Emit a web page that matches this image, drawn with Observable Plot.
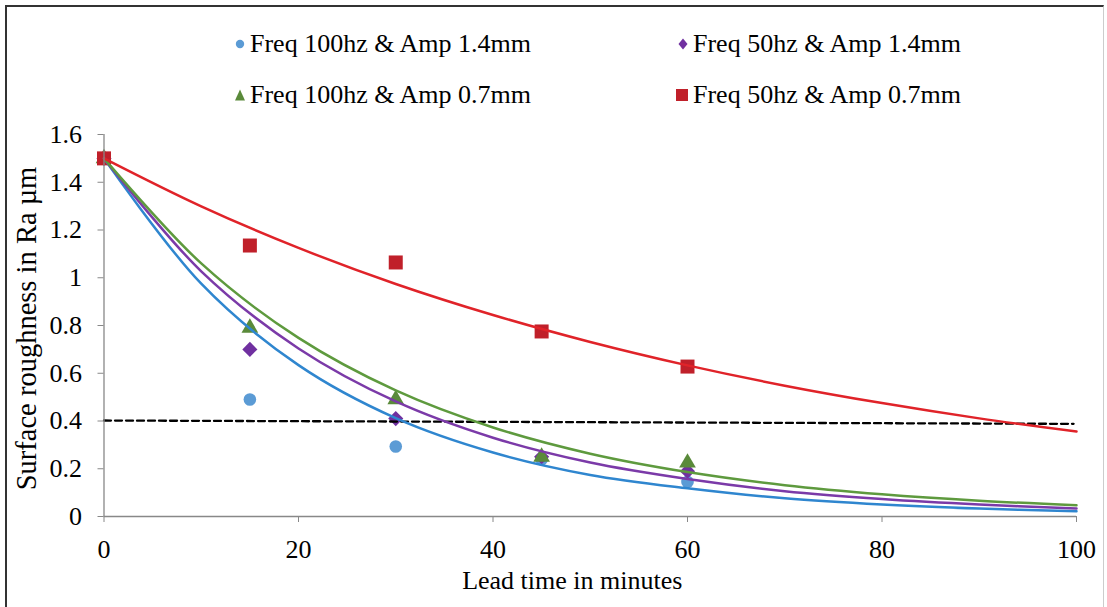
<!DOCTYPE html>
<html>
<head>
<meta charset="utf-8">
<script src="https://cdn.jsdelivr.net/npm/d3@7"></script>
<script src="https://cdn.jsdelivr.net/npm/@observablehq/plot@0.6"></script>
<style>
  html, body { margin: 0; padding: 0; background: #fff; }
  #wrap { position: relative; width: 1107px; height: 607px; overflow: hidden; font-family: "Liberation Serif", "DejaVu Serif", serif; }
  #frame { position: absolute; left: 5px; top: 5px; width: 1099px; height: 620px; border-top: 2px solid #333; border-left: 2px solid #333; border-right: 1px solid #ccc; box-sizing: border-box; }
  .leg { position: absolute; font-size: 26px; color: #000; white-space: nowrap; line-height: 30px; font-family: "Liberation Serif", "DejaVu Serif", serif; }
  .leg svg { position: absolute; left: -16px; top: 8px; }
  #chart { position: absolute; left: 0; top: 120px; }
  #chart svg, #chart svg text { font-family: "Liberation Serif", "DejaVu Serif", serif; }
</style>
</head>
<body>
<div id="wrap">
  <div id="frame"></div>
  <div id="legend"></div>
  <div id="chart"></div>
</div>
<script>
// Measured data points (lead time in minutes vs surface roughness Ra µm)
const times = [0, 15, 30, 45, 60];
const blueVals = [1.5, 0.49, 0.293, 0.24, 0.145];
const purpleVals = [1.5, 0.70, 0.41, 0.25, 0.19];
const greenVals = [1.5, 0.79, 0.49, 0.25, 0.225];
const redVals = [1.5, 1.135, 1.064, 0.775, 0.628];

// Trend lines
const trendX = [0, 10, 20, 30, 40, 50, 60, 70, 80, 90, 100];
const blueTrend = [1.5, 0.975, 0.634, 0.412, 0.268, 0.174, 0.118, 0.076, 0.050, 0.033, 0.022];
const purpleTrend = [1.5, 1.027, 0.704, 0.482, 0.330, 0.226, 0.157, 0.106, 0.073, 0.050, 0.034];
const greenTrend = [1.5, 1.06, 0.748, 0.528, 0.373, 0.263, 0.186, 0.131, 0.093, 0.066, 0.047];
const redTrend = [1.5, 1.299, 1.125, 0.974, 0.844, 0.731, 0.633, 0.548, 0.475, 0.411, 0.356];

// Dashed threshold line
const thresholdX = [0, 99.7];
const thresholdY = [0.402, 0.388];

// Series names and ticks
const seriesNames = ["Freq 100hz & Amp 1.4mm", "Freq 50hz & Amp 1.4mm", "Freq 100hz & Amp 0.7mm", "Freq 50hz & Amp 0.7mm"];
const xTicks = [0, 20, 40, 60, 80, 100];
const yTicks = [0, 0.2, 0.4, 0.6, 0.8, 1, 1.2, 1.4, 1.6];
const yTickLabels = ["0", "0.2", "0.4", "0.6", "0.8", "1", "1.2", "1.4", "1.6"];

const FONT = "'Liberation Serif', 'DejaVu Serif', serif";

const series = [
  {name: seriesNames[0], vals: blueVals, trend: blueTrend, dot: "#5b9bd5", line: "#2f86cf", symbol: "circle", r: 6.3},
  {name: seriesNames[1], vals: purpleVals, trend: purpleTrend, dot: "#7030a0", line: "#7b3aa8", symbol: "diamond2", r: 6.8},
  {name: seriesNames[2], vals: greenVals, trend: greenTrend, dot: "#5a8a3a", line: "#5e9a3e", symbol: "triangle", r: 6.2},
  {name: seriesNames[3], vals: redVals, trend: redTrend, dot: "#c0202a", line: "#e02329", symbol: "square", r: 7.9}
];

const points = series.flatMap(s => times.map((t, i) => ({x: t, y: s.vals[i], name: s.name})));
const trends = series.flatMap(s => trendX.map((t, i) => ({x: t, y: s.trend[i], name: s.name})));
const threshold = thresholdX.map((x, i) => ({x, y: thresholdY[i]}));

const marks = [];
for (const s of series) {
  marks.push(Plot.dot(points.filter(d => d.name === s.name), {x: "x", y: "y", symbol: () => s.symbol, fill: s.dot, stroke: "none", r: s.r}));
}
marks.push(Plot.line(threshold, {x: "x", y: "y", stroke: "#000", strokeWidth: 2.3, strokeDasharray: "7,4"}));
for (const s of series) {
  marks.push(Plot.line(trends.filter(d => d.name === s.name), {x: "x", y: "y", stroke: s.line, strokeWidth: 2.5, curve: "catmull-rom"}));
}
marks.push(Plot.axisX({ticks: xTicks, tickSize: 6, tickPadding: 17, stroke: "#888", color: "#000", label: null, fontSize: 26, fontFamily: FONT, tickFormat: d => String(d)}));
marks.push(Plot.axisY({ticks: yTicks, tickSize: 6, tickPadding: 16, stroke: "#888", color: "#000", label: null, fontSize: 26, fontFamily: FONT, tickFormat: (d, i) => yTickLabels[i]}));
marks.push(Plot.ruleX([0], {stroke: "#888", strokeWidth: 1.3}));
marks.push(Plot.ruleY([0], {stroke: "#888", strokeWidth: 1.3}));
marks.push(Plot.text(["Lead time in minutes"], {frameAnchor: "bottom", textAnchor: "middle", lineAnchor: "middle", dx: -18, dy: 64, fill: "#000", fontSize: 26, fontFamily: FONT}));
marks.push(Plot.text(["Surface roughness in Ra µm"], {frameAnchor: "left", textAnchor: "middle", lineAnchor: "middle", rotate: -90, dx: -77, dy: 3, fill: "#000", fontSize: 28.5, fontFamily: FONT}));

const chart = Plot.plot({
  width: 1107,
  height: 487,
  marginLeft: 103.5,
  marginRight: 31,
  marginTop: 14,
  marginBottom: 91,
  x: {domain: [0, 100]},
  y: {domain: [0, 1.6]},
  style: {fontFamily: FONT, fontSize: "26px", background: "transparent", color: "#000", overflow: "visible"},
  marks
});
document.getElementById("chart").appendChild(chart);

// Legend (HTML above the SVG)
const legPos = [
  {left: 250, top: 29}, {left: 693, top: 29},
  {left: 250, top: 80}, {left: 693, top: 80}
];
const legMarkers = [
  `<svg width="12" height="14"><circle cx="6" cy="7" r="4.2" fill="#5b9bd5"/></svg>`,
  `<svg width="12" height="14"><path d="M6,1.5L10.5,7L6,12.5L1.5,7Z" fill="#7030a0"/></svg>`,
  `<svg width="12" height="14"><path d="M6,1.5L11,12.5L1,12.5Z" fill="#5a8a3a"/></svg>`,
  `<svg width="14" height="14" style="left:-18px"><rect x="1" y="1" width="12" height="12" fill="#c0202a"/></svg>`
];
const legend = document.getElementById("legend");
seriesNames.forEach((n, i) => {
  const el = document.createElement("div");
  el.className = "leg";
  el.style.left = legPos[i].left + "px";
  el.style.top = legPos[i].top + "px";
  el.innerHTML = legMarkers[i] + `<span>${n}</span>`;
  legend.appendChild(el);
});
</script>
</body>
</html>
